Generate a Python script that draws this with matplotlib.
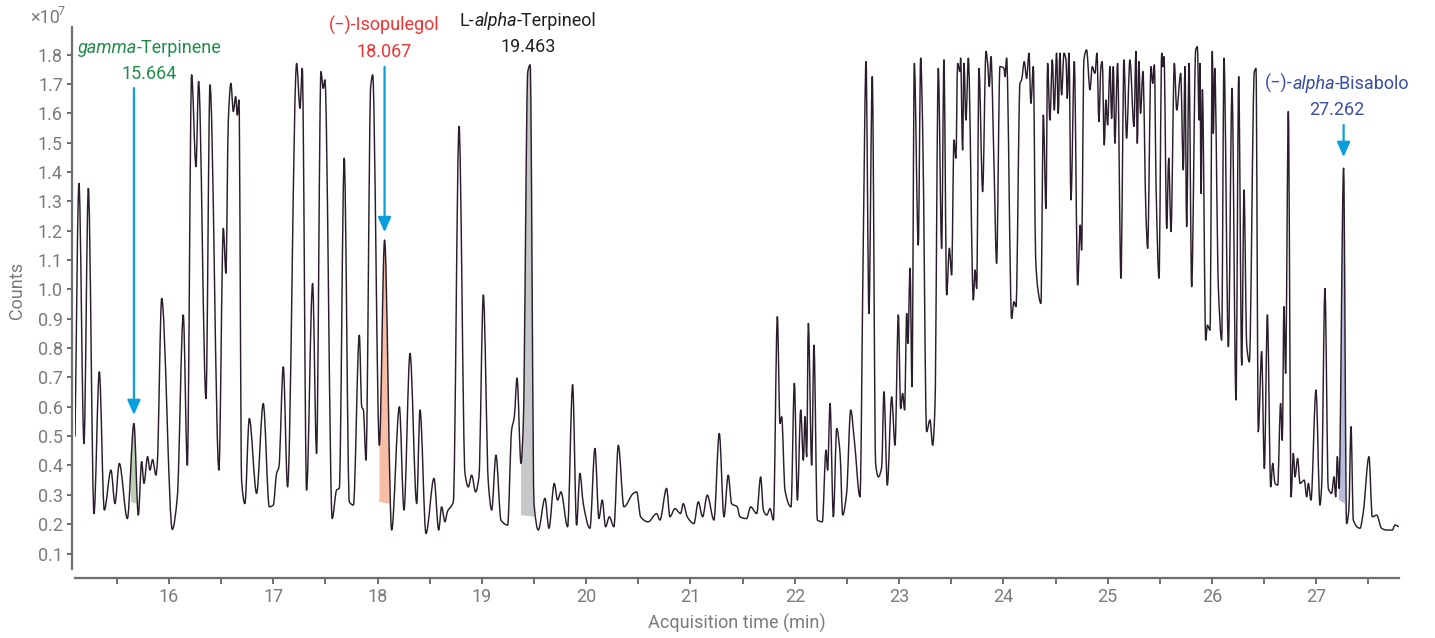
import numpy as np
import matplotlib
matplotlib.use("Agg")
import matplotlib.pyplot as plt
from matplotlib.path import Path
from matplotlib.patches import PathPatch
from matplotlib.transforms import IdentityTransform
from matplotlib.ticker import MultipleLocator, FormatStrFormatter

# ---- chromatogram trace (acquisition time in min, counts in units of 1e7) ----
time_min = [
    15.099, 15.137, 15.185, 15.227, 15.281, 15.332, 15.380, 15.444, 15.482, 15.524,
    15.601, 15.664, 15.706, 15.738, 15.760, 15.795, 15.818, 15.843, 15.875, 15.888,
    15.930, 16.032, 16.080, 16.137, 16.176, 16.217, 16.259, 16.284, 16.355, 16.393,
    16.479, 16.521, 16.546, 16.569, 16.594, 16.617, 16.639, 16.655, 16.671, 16.696,
    16.728, 16.770, 16.840, 16.904, 16.962, 17.000, 17.032, 17.054, 17.096, 17.137,
    17.224, 17.256, 17.278, 17.319, 17.377, 17.415, 17.457, 17.479, 17.495, 17.565,
    17.607, 17.633, 17.680, 17.729, 17.768, 17.825, 17.848, 17.864, 17.889, 17.934,
    17.953, 18.017, 18.067, 18.135, 18.209, 18.253, 18.311, 18.375, 18.407, 18.464,
    18.541, 18.586, 18.614, 18.646, 18.669, 18.726, 18.781, 18.838, 18.870, 18.902,
    18.940, 18.972, 19.014, 19.062, 19.094, 19.135, 19.183, 19.247, 19.285, 19.311,
    19.337, 19.375, 19.397, 19.440, 19.463, 19.500, 19.541, 19.605, 19.643, 19.694,
    19.726, 19.758, 19.822, 19.870, 19.908, 19.940, 19.972, 20.036, 20.084, 20.122,
    20.154, 20.186, 20.222, 20.266, 20.308, 20.362, 20.452, 20.484, 20.522, 20.595,
    20.675, 20.707, 20.771, 20.803, 20.851, 20.905, 20.931, 20.969, 21.033, 21.075,
    21.116, 21.161, 21.225, 21.276, 21.321, 21.362, 21.394, 21.448, 21.474, 21.538,
    21.577, 21.635, 21.673, 21.699, 21.731, 21.763, 21.795, 21.833, 21.858, 21.874,
    21.906, 21.964, 21.996, 22.025, 22.057, 22.082, 22.098, 22.114, 22.130, 22.162,
    22.184, 22.216, 22.264, 22.299, 22.315, 22.338, 22.370, 22.402, 22.434, 22.459,
    22.497, 22.536, 22.571, 22.625, 22.657, 22.683, 22.711, 22.743, 22.775, 22.801,
    22.833, 22.855, 22.887, 22.929, 22.961, 22.993, 23.015, 23.034, 23.053, 23.073,
    23.085, 23.105, 23.124, 23.146, 23.184, 23.207, 23.226, 23.264, 23.296, 23.322,
    23.344, 23.376, 23.408, 23.430, 23.456, 23.482, 23.504, 23.526, 23.545, 23.561,
    23.584, 23.590, 23.609, 23.622, 23.641, 23.664, 23.712, 23.728, 23.744, 23.766,
    23.801, 23.833, 23.849, 23.865, 23.881, 23.910, 23.935, 23.967, 24.006, 24.015,
    24.031, 24.079, 24.101, 24.121, 24.159, 24.175, 24.200, 24.223, 24.245, 24.264,
    24.287, 24.309, 24.328, 24.360, 24.383, 24.408, 24.424, 24.446, 24.469, 24.488,
    24.510, 24.526, 24.542, 24.558, 24.581, 24.600, 24.613, 24.629, 24.648, 24.680,
    24.712, 24.737, 24.750, 24.772, 24.798, 24.830, 24.852, 24.878, 24.897, 24.916,
    24.935, 24.948, 24.967, 24.983, 24.999, 25.022, 25.038, 25.054, 25.069, 25.095,
    25.127, 25.156, 25.181, 25.213, 25.252, 25.271, 25.284, 25.299, 25.315, 25.338,
    25.367, 25.383, 25.415, 25.432, 25.448, 25.464, 25.492, 25.518, 25.527, 25.540,
    25.566, 25.585, 25.607, 25.639, 25.662, 25.700, 25.725, 25.741, 25.757, 25.780,
    25.805, 25.844, 25.860, 25.876, 25.885, 25.895, 25.908, 25.940, 25.956, 25.981,
    26.003, 26.013, 26.026, 26.061, 26.093, 26.115, 26.157, 26.192, 26.230, 26.256,
    26.285, 26.307, 26.333, 26.358, 26.406, 26.422, 26.444, 26.476, 26.502, 26.531,
    26.563, 26.582, 26.604, 26.630, 26.658, 26.674, 26.690, 26.706, 26.732, 26.758,
    26.780, 26.796, 26.821, 26.844, 26.885, 26.908, 26.924, 26.949, 26.997, 27.035,
    27.051, 27.083, 27.115, 27.147, 27.170, 27.186, 27.202, 27.218, 27.262, 27.290,
    27.312, 27.333, 27.355, 27.419, 27.451, 27.505, 27.537, 27.579, 27.626, 27.674,
    27.729, 27.754, 27.793,
]
counts_e7 = [
    0.498, 1.361, 0.475, 1.344, 0.236, 0.719, 0.248, 0.384, 0.270, 0.407,
    0.219, 0.543, 0.231, 0.413, 0.339, 0.430, 0.384, 0.420, 0.367, 0.407,
    0.969, 0.182, 0.293, 0.913, 0.401, 1.731, 1.418, 1.708, 0.628, 1.697,
    0.384, 1.208, 1.055, 1.577, 1.702, 1.606, 1.657, 1.594, 1.645, 0.350,
    0.270, 0.560, 0.305, 0.611, 0.259, 0.265, 0.373, 0.395, 0.736, 0.327,
    1.770, 1.617, 1.753, 0.316, 1.020, 0.441, 1.742, 1.685, 1.714, 0.219,
    0.316, 0.322, 1.447, 0.276, 0.265, 0.844, 0.600, 0.589, 0.418, 1.691,
    1.731, 0.469, 1.168, 0.180, 0.600, 0.248, 0.782, 0.270, 0.589, 0.168,
    0.356, 0.180, 0.259, 0.208, 0.242, 0.276, 1.555, 0.373, 0.327, 0.367,
    0.310, 0.361, 0.981, 0.339, 0.248, 0.435, 0.214, 0.197, 0.520, 0.566,
    0.698, 0.407, 0.543, 1.742, 1.765, 0.270, 0.180, 0.288, 0.186, 0.339,
    0.282, 0.310, 0.191, 0.675, 0.197, 0.373, 0.270, 0.186, 0.458, 0.219,
    0.282, 0.191, 0.225, 0.191, 0.469, 0.259, 0.305, 0.310, 0.225, 0.208,
    0.236, 0.214, 0.322, 0.225, 0.253, 0.236, 0.270, 0.225, 0.202, 0.276,
    0.225, 0.299, 0.214, 0.509, 0.225, 0.367, 0.270, 0.259, 0.225, 0.219,
    0.259, 0.236, 0.361, 0.248, 0.231, 0.253, 0.214, 0.907, 0.543, 0.566,
    0.316, 0.259, 0.680, 0.282, 0.589, 0.418, 0.566, 0.430, 0.884, 0.401,
    0.810, 0.214, 0.208, 0.452, 0.384, 0.611, 0.225, 0.526, 0.441, 0.231,
    0.305, 0.589, 0.486, 0.293, 1.168, 1.776, 0.918, 1.725, 0.407, 0.361,
    0.395, 0.651, 0.333, 0.634, 0.469, 0.913, 0.594, 0.645, 0.589, 0.918,
    0.816, 1.072, 0.668, 1.770, 1.151, 1.788, 1.549, 0.515, 0.555, 0.469,
    0.600, 1.753, 1.140, 1.782, 0.981, 1.140, 1.049, 1.509, 1.447, 1.770,
    1.742, 1.788, 1.475, 1.770, 1.577, 1.788, 0.964, 1.066, 1.003, 1.753,
    1.333, 1.811, 1.770, 1.691, 1.793, 1.424, 1.089, 1.759, 1.753, 1.725,
    1.788, 0.901, 0.958, 0.941, 1.702, 1.714, 1.776, 1.719, 1.805, 1.634,
    1.759, 1.111, 1.009, 0.952, 1.594, 1.276, 1.770, 1.577, 1.782, 1.611,
    1.805, 1.600, 1.805, 1.663, 1.805, 1.782, 1.651, 1.805, 1.305, 1.776,
    1.015, 1.219, 1.134, 1.782, 1.816, 1.680, 1.759, 1.736, 1.805, 1.572,
    1.759, 1.776, 1.492, 1.645, 1.560, 1.759, 1.583, 1.759, 1.498, 1.770,
    1.038, 1.782, 1.515, 1.782, 1.555, 1.811, 1.498, 1.776, 1.600, 1.742,
    1.253, 1.140, 1.759, 1.702, 1.765, 1.350, 1.038, 1.805, 1.759, 1.793,
    1.208, 1.447, 1.197, 1.770, 1.611, 1.736, 1.407, 1.759, 1.214, 1.770,
    1.009, 1.816, 1.827, 1.577, 1.770, 1.327, 1.680, 0.827, 0.878, 0.861,
    1.811, 1.532, 1.753, 1.009, 0.827, 1.788, 0.805, 1.685, 0.623, 1.725,
    0.742, 1.339, 0.810, 0.753, 1.742, 1.753, 0.515, 0.788, 0.390, 0.913,
    0.327, 0.407, 0.339, 0.333, 0.611, 0.486, 0.941, 0.714, 1.606, 0.293,
    0.441, 0.361, 0.424, 0.339, 0.350, 0.293, 0.339, 0.282, 0.657, 0.265,
    0.327, 1.003, 0.322, 0.305, 0.361, 0.293, 0.430, 0.322, 1.413, 0.202,
    0.248, 0.532, 0.214, 0.186, 0.242, 0.430, 0.225, 0.231, 0.186, 0.180,
    0.180, 0.197, 0.191,
]

# ---- annotated compounds ----
peak_times = [15.664, 18.067, 19.463, 27.262]
label_parts = [
    [("gamma", "italic"), ("-Terpinene", "normal")],
    [("(\u2212)-Isopulegol", "normal")],
    [("L-", "normal"), ("alpha", "italic"), ("-Terpineol", "normal")],
    [("(\u2212)-", "normal"), ("alpha", "italic"), ("-Bisabolo", "normal")],
]
label_colors = ["#1f8c4c", "#ee3333", "#231f20", "#3a4ea2"]
fill_colors = ["#b9d0b3", "#f8bea5", "#c6c7c9", "#b9bbdc"]
# integration window and baseline (start / end levels) for each shaded peak
window_start = [15.636, 18.017, 19.375, 27.218]
window_end = [15.690, 18.113, 19.503, 27.275]
base_start = [0.276, 0.276, 0.231, 0.282]
base_end = [0.270, 0.270, 0.225, 0.270]

FONT = ["Roboto", "DejaVu Sans"]
GREY = "#6d6e71"
TICK_GREY = "#7a7b7e"
ARROW = "#0a9fdc"
W, H = 1435, 638

plt.rcParams["font.family"] = FONT
fig = plt.figure(figsize=(W / 100, H / 100), dpi=100)
ax = fig.add_axes([75 / W, 1 - 569 / H, (1399 - 75) / W, (569 - 27) / H])

t = np.asarray(time_min)
c = np.asarray(counts_e7)


def hermite_segments(x, y):
    """Cubic Bezier segments of a monotone (Fritsch-Carlson) curve through the samples."""
    h = np.diff(x)
    d = np.diff(y) / h
    m = np.zeros_like(y)
    m[0], m[-1] = d[0], d[-1]
    for i in range(1, len(x) - 1):
        if d[i - 1] * d[i] > 0:
            w1 = 2 * h[i] + h[i - 1]
            w2 = h[i] + 2 * h[i - 1]
            m[i] = (w1 + w2) / (w1 / d[i - 1] + w2 / d[i])
    segs = []
    for i in range(len(x) - 1):
        p0 = np.array([x[i], y[i]])
        p1 = np.array([x[i] + h[i] / 3, y[i] + m[i] * h[i] / 3])
        p2 = np.array([x[i + 1] - h[i] / 3, y[i + 1] - m[i + 1] * h[i] / 3])
        p3 = np.array([x[i + 1], y[i + 1]])
        segs.append([p0, p1, p2, p3])
    return segs


def split(seg, u):
    p0, p1, p2, p3 = seg
    a, b, cc = p0 + (p1 - p0) * u, p1 + (p2 - p1) * u, p2 + (p3 - p2) * u
    d1, d2 = a + (b - a) * u, b + (cc - b) * u
    e = d1 + (d2 - d1) * u
    return [p0, a, d1, e], [e, d2, cc, p3]


def sub_segment(seg, u0, u1):
    left, _ = split(seg, u1)
    if u0 <= 0:
        return left
    _, mid = split(left, u0 / u1)
    return mid


segs = hermite_segments(t, c)

# shaded integration areas, bounded by the trace and a straight baseline
for ts, te, bs, be, col in zip(window_start, window_end, base_start, base_end, fill_colors):
    verts = [(ts, bs)]
    codes = [Path.MOVETO]
    first = True
    for i, seg in enumerate(segs):
        x0, x1 = t[i], t[i + 1]
        if x1 <= ts or x0 >= te:
            continue
        u0 = max(0.0, (ts - x0) / (x1 - x0))
        u1 = min(1.0, (te - x0) / (x1 - x0))
        part = sub_segment(seg, u0, u1)
        if first:
            verts.append(tuple(part[0]))
            codes.append(Path.LINETO)
            first = False
        verts += [tuple(p) for p in part[1:]]
        codes += [Path.CURVE4] * 3
    verts += [(te, be), (ts, bs)]
    codes += [Path.LINETO, Path.CLOSEPOLY]
    ax.add_patch(PathPatch(Path(verts, codes), facecolor=col, lw=0, zorder=1))

# the trace itself
verts = [tuple(segs[0][0])]
codes = [Path.MOVETO]
for seg in segs:
    verts += [tuple(p) for p in seg[1:]]
    codes += [Path.CURVE4] * 3
ax.add_patch(PathPatch(Path(verts, codes), facecolor="none", edgecolor="#2b1e2c",
                       lw=1.05, zorder=2, joinstyle="round"))

ax.set_xlim(15.099, 27.793)
ax.set_ylim(0.0472, 1.894)

for side in ("top", "right"):
    ax.spines[side].set_visible(False)
ax.spines["left"].set_position(("outward", 2.2))
ax.spines["bottom"].set_position(("outward", 6.3))
for side in ("left", "bottom"):
    ax.spines[side].set_color(GREY)
    ax.spines[side].set_linewidth(1.6)

ax.xaxis.set_major_locator(MultipleLocator(1))
ax.xaxis.set_minor_locator(MultipleLocator(0.5))
ax.set_yticks(np.round(np.arange(0.1, 1.81, 0.1), 1))
ax.yaxis.set_major_formatter(FormatStrFormatter("%.1f"))
ax.tick_params(axis="both", which="both", direction="out", color=GREY,
               width=1.4, labelcolor=TICK_GREY, labelsize=13)
ax.tick_params(axis="x", which="both", length=4.5, pad=3)
ax.tick_params(axis="y", length=3.5, pad=3)
ax.xaxis.set_minor_formatter(plt.NullFormatter())

# axis titles and exponent marker
fig.text(17 / W, 1 - 290 / H, "Counts", rotation=90, ha="center", va="center",
         color=TICK_GREY, fontsize=13)
fig.text(737 / W, 1 - 623 / H, "Acquisition time (min)", ha="center", va="center",
         color=TICK_GREY, fontsize=13)
fig.text(30 / W, 1 - 23 / H, "\u00d710", ha="left", va="baseline", color=TICK_GREY, fontsize=13)
fig.text(58 / W, 1 - 15 / H, "7", ha="left", va="baseline", color=TICK_GREY, fontsize=9)

# arrows pointing at the labelled peaks
arrow_tail = [1.686, 1.758, None, 1.560]
arrow_tip = [0.572, 1.195, None, 1.451]
for pt, tail, tip in zip(peak_times, arrow_tail, arrow_tip):
    if tail is None:
        continue
    ax.annotate("", xy=(pt, tip), xytext=(pt, tail),
                arrowprops=dict(arrowstyle="-|>,head_length=0.45,head_width=0.2",
                                color=ARROW, lw=1.6, shrinkA=0, shrinkB=0,
                                mutation_scale=20), zorder=3)

# compound names and retention times above the peaks
label_x = [15.815, 18.067, 19.445, 27.200]
name_base = [53, 31, 26, 89]
time_base = [79, 57, 52, 115]

fig.canvas.draw()
renderer = fig.canvas.get_renderer()


def centered_parts(parts, xc, ybase, color):
    pieces = [fig.text(0, 0, s, style=st, color=color, fontsize=13, ha="left",
                       va="baseline", transform=IdentityTransform())
              for s, st in parts]
    widths = [p.get_window_extent(renderer).width for p in pieces]
    x = xc - sum(widths) / 2
    for p, w in zip(pieces, widths):
        p.set_position((x, ybase))
        x += w


for parts, lx, pt, nb, tb, col in zip(label_parts, label_x, peak_times,
                                       name_base, time_base, label_colors):
    xc = ax.transData.transform((lx, 0))[0]
    centered_parts(parts, xc, H - nb, col)
    centered_parts([(f"{pt:.3f}", "normal")], xc, H - tb, col)

fig.savefig("out.png", dpi=100)
